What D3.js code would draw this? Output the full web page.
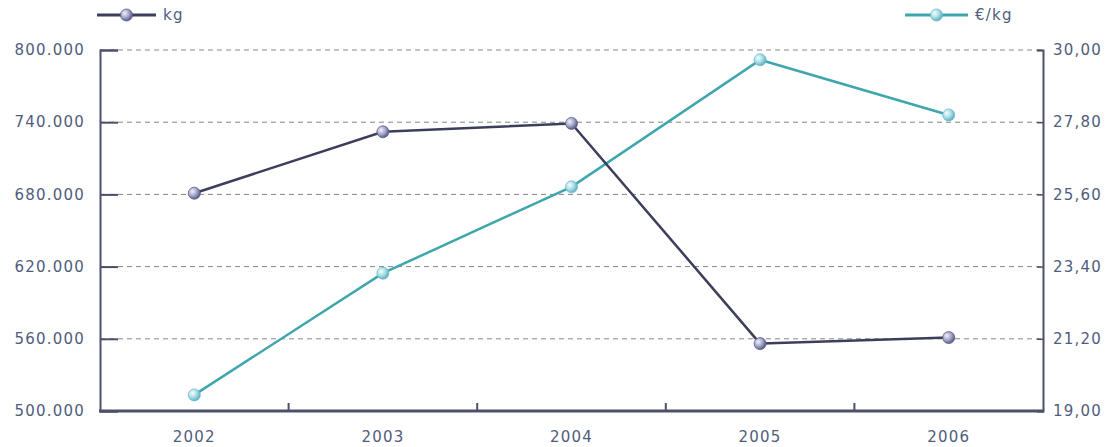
<!DOCTYPE html>
<html><head><meta charset="utf-8">
<script src="https://cdn.jsdelivr.net/npm/d3@7"></script>
<style>
html,body{margin:0;padding:0;background:#fff;}
svg{display:block;}
text{font-family:"DejaVu Sans",Verdana,sans-serif;letter-spacing:1.2px;}
</style></head>
<body>
<svg id="chart" width="1111" height="447"></svg>
<script>
const years = ["2002","2003","2004","2005","2006"];
const kgValues = [681000, 732000, 739000, 556000, 561000];
const priceValues = [19.49, 23.20, 25.83, 29.70, 28.02];
const leftTicks = [500000, 560000, 620000, 680000, 740000, 800000];
const rightTicks = [19.00, 21.20, 23.40, 25.60, 27.80, 30.00];
const seriesNames = ["kg", "€/kg"];

const svg = d3.select("#chart");
const m = {left:100, right:1043, top:50, bottom:411};
const textCol = "#4f5d7c";
const axisCol = "#4d5068";
const kgCol = "#3b3f5c";
const prCol = "#3fa6ad";
const fs = 15;

const defs = svg.append("defs");
const g1 = defs.append("radialGradient").attr("id","gKg").attr("cx","35%").attr("cy","35%").attr("r","65%");
g1.append("stop").attr("offset","0%").attr("stop-color","#f2f2fa");
g1.append("stop").attr("offset","55%").attr("stop-color","#a6a8cc");
g1.append("stop").attr("offset","100%").attr("stop-color","#5d5f8a");
const g2 = defs.append("radialGradient").attr("id","gPr").attr("cx","35%").attr("cy","35%").attr("r","65%");
g2.append("stop").attr("offset","0%").attr("stop-color","#f4fdff");
g2.append("stop").attr("offset","55%").attr("stop-color","#a9dde6");
g2.append("stop").attr("offset","100%").attr("stop-color","#5fb3c0");

const x = d3.scaleBand().domain(years).range([m.left, m.right]);
const yL = d3.scaleLinear().domain([500000, 800000]).range([m.bottom, m.top]);
const yR = d3.scaleLinear().domain([19, 30]).range([m.bottom, m.top]);

// gridlines
svg.append("g").selectAll("line").data(leftTicks.slice(1)).join("line")
  .attr("x1", m.left).attr("x2", m.right)
  .attr("y1", d=>yL(d)).attr("y2", d=>yL(d))
  .attr("stroke", "#85858f").attr("stroke-width", 1).attr("stroke-dasharray","5,4");

// left axis
const fmtL = d => d3.format(",")(d).replace(/,/g, ".");
const axL = svg.append("g").attr("transform", `translate(${m.left},0)`)
  .call(d3.axisRight(yL).tickValues(leftTicks).tickSize(18).tickFormat(""));
axL.select(".domain").attr("stroke", axisCol).attr("stroke-width", 2);
axL.selectAll(".tick line").attr("stroke", axisCol).attr("stroke-width", 2);
svg.append("g").selectAll("text").data(leftTicks).join("text")
  .attr("x", 85).attr("y", d=>yL(d)).attr("dy","0.35em").attr("text-anchor","end")
  .attr("font-size", fs).attr("fill", textCol).text(fmtL);

// right axis
const fmtR = d => d.toFixed(2).replace(".", ",");
const axR = svg.append("g").attr("transform", `translate(${m.right},0)`)
  .call(d3.axisLeft(yR).tickValues(rightTicks).tickSize(6).tickFormat(""));
axR.select(".domain").attr("stroke", axisCol).attr("stroke-width", 2);
axR.selectAll(".tick line").attr("stroke", axisCol).attr("stroke-width", 1.5);
svg.append("g").selectAll("text").data(rightTicks).join("text")
  .attr("x", 1053).attr("y", d=>yR(d)).attr("dy","0.35em").attr("text-anchor","start")
  .attr("font-size", fs).attr("fill", textCol).text(fmtR);

// bottom axis
const boundaries = years.slice(1).map(y => x(y));
svg.append("line").attr("x1", m.left-1).attr("x2", m.right+1).attr("y1", m.bottom).attr("y2", m.bottom)
  .attr("stroke", axisCol).attr("stroke-width", 3);
svg.append("g").selectAll("line").data(boundaries).join("line")
  .attr("x1", d=>d).attr("x2", d=>d).attr("y1", m.bottom).attr("y2", m.bottom-8)
  .attr("stroke", axisCol).attr("stroke-width", 2);
svg.append("g").selectAll("text").data(years).join("text")
  .attr("x", d=>x(d)+x.bandwidth()/2).attr("y", 437).attr("dy","0.35em").attr("text-anchor","middle")
  .attr("font-size", fs).attr("fill", textCol).text(d=>d);

const cx = d => x(d) + x.bandwidth()/2;

// price line
svg.append("path").datum(priceValues)
  .attr("d", d3.line().x((d,i)=>cx(years[i])).y(d=>yR(d)))
  .attr("fill","none").attr("stroke", prCol).attr("stroke-width", 2.5);
// kg line
svg.append("path").datum(kgValues)
  .attr("d", d3.line().x((d,i)=>cx(years[i])).y(d=>yL(d)))
  .attr("fill","none").attr("stroke", kgCol).attr("stroke-width", 2.5);

svg.append("g").selectAll("circle").data(priceValues).join("circle")
  .attr("cx",(d,i)=>cx(years[i])).attr("cy", d=>yR(d)).attr("r",6)
  .attr("fill","url(#gPr)").attr("stroke","#6fbac6").attr("stroke-width",0.8);
svg.append("g").selectAll("circle").data(kgValues).join("circle")
  .attr("cx",(d,i)=>cx(years[i])).attr("cy", d=>yL(d)).attr("r",6)
  .attr("fill","url(#gKg)").attr("stroke","#5a5c85").attr("stroke-width",0.8);

// legends
function legend(x0, x1, col, grad, stroke, label) {
  const gL = svg.append("g");
  gL.append("line").attr("x1",x0).attr("x2",x1).attr("y1",15).attr("y2",15)
    .attr("stroke", col).attr("stroke-width", 3);
  gL.append("circle").attr("cx",(x0+x1)/2).attr("cy",15).attr("r",6)
    .attr("fill",grad).attr("stroke",stroke).attr("stroke-width",0.8);
  gL.append("text").attr("x", x1+7).attr("y",15).attr("dy","0.35em")
    .attr("font-size",fs).attr("fill",textCol).text(label);
}
legend(97, 156, kgCol, "url(#gKg)", "#5a5c85", seriesNames[0]);
legend(905, 968, prCol, "url(#gPr)", "#6fbac6", seriesNames[1]);
</script>
</body></html>
